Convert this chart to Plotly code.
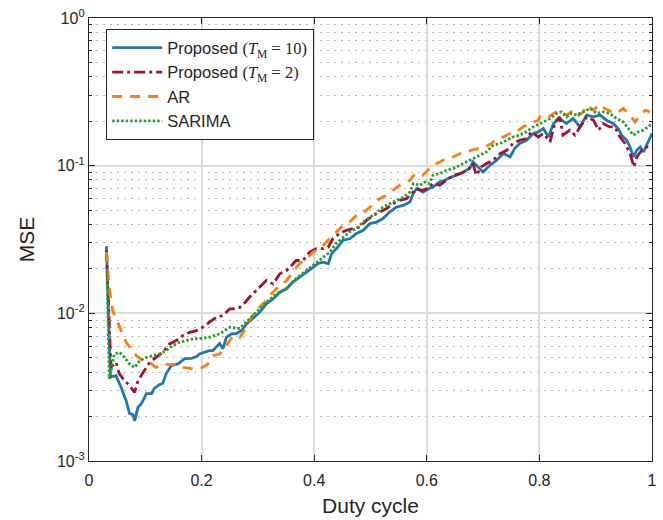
import plotly.graph_objects as go

# ---- data (duty cycle, MSE) ----
prop10_x = [0.031, 0.038, 0.048, 0.057, 0.066, 0.072, 0.078, 0.081, 0.087, 0.093, 0.102, 0.111, 0.116, 0.125,
            0.131, 0.137, 0.146, 0.158, 0.170, 0.182, 0.191, 0.196, 0.205, 0.214, 0.220, 0.232, 0.238, 0.244,
            0.253, 0.262, 0.271, 0.279, 0.291, 0.303, 0.315, 0.327, 0.339, 0.351, 0.362, 0.374, 0.386, 0.398,
            0.407, 0.416, 0.425, 0.431, 0.442, 0.451, 0.463, 0.475, 0.487, 0.499, 0.511, 0.522, 0.534, 0.546,
            0.558, 0.570, 0.576, 0.582, 0.593, 0.604, 0.611, 0.623, 0.632, 0.641, 0.653, 0.665, 0.676, 0.682,
            0.691, 0.700, 0.712, 0.724, 0.736, 0.748, 0.756, 0.765, 0.777, 0.789, 0.798, 0.807, 0.816, 0.825,
            0.836, 0.848, 0.860, 0.872, 0.884, 0.896, 0.908, 0.919, 0.931, 0.940, 0.946, 0.955, 0.961, 0.967,
            0.973, 0.979, 0.985, 0.993, 1.000]
prop10_y = [0.0285, 0.0037, 0.00378, 0.00316, 0.00256, 0.0021, 0.00206, 0.00187, 0.00231, 0.00244, 0.00286,
            0.00286, 0.0031, 0.00329, 0.00336, 0.00389, 0.00442, 0.00454, 0.00493, 0.00495, 0.00509, 0.00531,
            0.00545, 0.00559, 0.00559, 0.00624, 0.00577, 0.00688, 0.00726, 0.0073, 0.00764, 0.0084, 0.00923,
            0.01018, 0.0116, 0.01254, 0.01391, 0.01467, 0.01627, 0.01759, 0.019, 0.02053, 0.02175, 0.0222,
            0.02166, 0.02537, 0.0281, 0.0312, 0.032, 0.0347, 0.0365, 0.0405, 0.0415, 0.0438, 0.0485, 0.0524,
            0.0538, 0.0567, 0.0647, 0.070, 0.0663, 0.070, 0.0717, 0.0775, 0.0796, 0.083, 0.0861, 0.0907,
            0.0956, 0.106, 0.098, 0.0907, 0.1006, 0.1088, 0.1208, 0.1146, 0.1306, 0.1413, 0.1487, 0.1652,
            0.1694, 0.1786, 0.1565, 0.193, 0.2087, 0.193, 0.2087, 0.183, 0.2198, 0.214, 0.22, 0.2032, 0.193,
            0.1786, 0.161, 0.1487, 0.1339, 0.1146, 0.1272, 0.1339, 0.1239, 0.1448, 0.1652]

prop2_x = [0.031, 0.039, 0.048, 0.054, 0.063, 0.072, 0.081, 0.087, 0.096, 0.108, 0.119, 0.131, 0.143, 0.155,
           0.167, 0.179, 0.191, 0.202, 0.214, 0.226, 0.238, 0.250, 0.262, 0.271, 0.285, 0.300, 0.315, 0.327,
           0.339, 0.351, 0.359, 0.368, 0.380, 0.392, 0.404, 0.416, 0.425, 0.433, 0.445, 0.457, 0.469, 0.481,
           0.493, 0.505, 0.516, 0.528, 0.540, 0.552, 0.564, 0.576, 0.582, 0.591, 0.602, 0.611, 0.623, 0.635,
           0.647, 0.659, 0.673, 0.682, 0.688, 0.697, 0.706, 0.718, 0.730, 0.742, 0.753, 0.765, 0.777, 0.786,
           0.798, 0.807, 0.819, 0.828, 0.836, 0.842, 0.854, 0.863, 0.872, 0.884, 0.896, 0.905, 0.913, 0.925,
           0.934, 0.943, 0.952, 0.961, 0.968, 0.973, 0.982, 0.991, 0.996]
prop2_y = [0.0267, 0.00431, 0.00466, 0.00389, 0.0035, 0.00324, 0.00292, 0.0035, 0.00398, 0.00466, 0.00503,
           0.00545, 0.00621, 0.00654, 0.00707, 0.00744, 0.00764, 0.00805, 0.00871, 0.0094, 0.00967, 0.01073,
           0.01073, 0.0111, 0.01285, 0.01467, 0.0167, 0.0158, 0.01853, 0.0195, 0.0211, 0.0228, 0.0228, 0.026,
           0.0274, 0.0274, 0.0281, 0.032, 0.0347, 0.0365, 0.0375, 0.0384, 0.0426, 0.046, 0.0485, 0.0511,
           0.0553, 0.0582, 0.0598, 0.0663, 0.070, 0.0681, 0.070, 0.0756, 0.0736, 0.0796, 0.0861, 0.0884,
           0.0931, 0.1034, 0.0861, 0.098, 0.1034, 0.1088, 0.1208, 0.1272, 0.1413, 0.1487, 0.1527, 0.1694,
           0.1565, 0.1652, 0.1448, 0.198, 0.214, 0.161, 0.1739, 0.161, 0.183, 0.214, 0.2032, 0.1739, 0.193,
           0.183, 0.183, 0.1565, 0.1413, 0.1208, 0.098, 0.1146, 0.1272, 0.1339, 0.1413]

ar_x = [0.031, 0.036, 0.042, 0.054, 0.066, 0.075, 0.084, 0.096, 0.108, 0.119, 0.131, 0.143, 0.155, 0.167,
        0.179, 0.191, 0.202, 0.211, 0.220, 0.232, 0.244, 0.256, 0.268, 0.276, 0.285, 0.297, 0.312, 0.324,
        0.336, 0.351, 0.362, 0.374, 0.386, 0.398, 0.410, 0.428, 0.439, 0.451, 0.463, 0.475, 0.487, 0.502,
        0.516, 0.528, 0.540, 0.552, 0.570, 0.579, 0.593, 0.604, 0.611, 0.623, 0.635, 0.647, 0.659, 0.671,
        0.679, 0.691, 0.703, 0.715, 0.724, 0.736, 0.748, 0.759, 0.771, 0.783, 0.798, 0.801, 0.813, 0.825,
        0.836, 0.848, 0.857, 0.866, 0.878, 0.884, 0.896, 0.908, 0.916, 0.928, 0.937, 0.949, 0.958, 0.970,
        0.979, 0.988, 0.996]
ar_y = [0.026, 0.015, 0.01045, 0.00805, 0.00637, 0.00574, 0.00517, 0.00478, 0.00466, 0.0043, 0.00454, 0.00449,
        0.00454, 0.0043, 0.00426, 0.0042, 0.0043, 0.00454, 0.00517, 0.0053, 0.00605, 0.00707, 0.00688,
        0.00764, 0.00894, 0.01045, 0.0119, 0.0136, 0.01503, 0.0167, 0.019, 0.0217, 0.0234, 0.026, 0.0274,
        0.032, 0.0355, 0.0394, 0.0415, 0.046, 0.0477, 0.0538, 0.0598, 0.063, 0.0681, 0.0736, 0.0796, 0.0884,
        0.0861, 0.0956, 0.1006, 0.106, 0.1117, 0.1146, 0.1208, 0.1239, 0.1272, 0.1306, 0.1339, 0.1413,
        0.1527, 0.1565, 0.1652, 0.1694, 0.183, 0.193, 0.2032, 0.214, 0.2087, 0.2257, 0.2376, 0.22, 0.2314,
        0.214, 0.2314, 0.257, 0.2376, 0.261, 0.244, 0.2314, 0.2257, 0.244, 0.2257, 0.198, 0.22, 0.2376,
        0.2314]

sarima_x = [0.032, 0.036, 0.045, 0.054, 0.063, 0.072, 0.081, 0.090, 0.102, 0.113, 0.125, 0.137, 0.149,
            0.161, 0.173, 0.185, 0.196, 0.214, 0.232, 0.250, 0.268, 0.279, 0.297, 0.315, 0.333, 0.351, 0.368,
            0.386, 0.404, 0.416, 0.428, 0.439, 0.451, 0.463, 0.475, 0.487, 0.499, 0.511, 0.522, 0.534, 0.546,
            0.558, 0.570, 0.576, 0.588, 0.596, 0.604, 0.611, 0.623, 0.635, 0.647, 0.659, 0.671, 0.682, 0.694,
            0.706, 0.718, 0.730, 0.742, 0.753, 0.765, 0.777, 0.789, 0.800, 0.807, 0.819, 0.831, 0.839, 0.848,
            0.857, 0.866, 0.878, 0.890, 0.902, 0.913, 0.925, 0.937, 0.949, 0.958, 0.967, 0.976, 0.985, 0.993,
            1.000]
sarima_y = [0.0195, 0.0036, 0.0053, 0.00545, 0.00503, 0.00454, 0.0043, 0.00478, 0.00503, 0.00517, 0.0053,
            0.00559, 0.00605, 0.00637, 0.00654, 0.00672, 0.00675, 0.00688, 0.00726, 0.00805, 0.0079, 0.00871,
            0.01018, 0.0119, 0.01357, 0.0148, 0.0172, 0.0195, 0.0218, 0.0238, 0.026, 0.0298, 0.0325, 0.0356,
            0.0375, 0.0415, 0.0448, 0.0477, 0.0524, 0.0553, 0.0582, 0.0612, 0.0663, 0.0756, 0.0736, 0.0775,
            0.0756, 0.0861, 0.0884, 0.0931, 0.0956, 0.1006, 0.106, 0.1117, 0.118, 0.1239, 0.1375, 0.1413,
            0.1487, 0.1565, 0.161, 0.1694, 0.183, 0.193, 0.198, 0.2087, 0.2257, 0.2314, 0.214, 0.2257, 0.22,
            0.2314, 0.244, 0.2257, 0.2314, 0.2257, 0.2087, 0.198, 0.1786, 0.161, 0.1694, 0.1739, 0.183, 0.193]

series_names = [
    "Proposed <span style='font-family:Liberation Serif'>(<i>T</i><sub>M</sub> = 10)</span>",
    "Proposed <span style='font-family:Liberation Serif'>(<i>T</i><sub>M</sub> = 2)</span>",
    "AR",
    "SARIMA",
]
x_tick_vals = [0, 0.2, 0.4, 0.6, 0.8, 1]
x_tick_text = ["0", "0.2", "0.4", "0.6", "0.8", "1"]
y_tick_vals = [1e-3, 1e-2, 1e-1, 1]
y_tick_text = ["10<sup>-3</sup>", "10<sup>-2</sup>", "10<sup>-1</sup>", "10<sup>0</sup>"]
y_minor_vals = [m * 10.0 ** e for e in (-3, -2, -1) for m in range(2, 10)]

FONT = "Liberation Sans, Arial, sans-serif"
TXT = "#262626"

fig = go.Figure()
fig.add_trace(go.Scatter(x=prop10_x, y=prop10_y, mode="lines", name=series_names[0],
                         line=dict(color="#1f77b4", width=2.8, dash="solid")))
fig.add_trace(go.Scatter(x=prop2_x, y=prop2_y, mode="lines", name=series_names[1],
                         line=dict(color="#a2142f", width=2.8, dash="11px,4px,3px,4px")))
fig.add_trace(go.Scatter(x=ar_x, y=ar_y, mode="lines", name=series_names[2],
                         line=dict(color="#ff7f0e", width=2.8, dash="10px,8px")))
fig.add_trace(go.Scatter(x=sarima_x, y=sarima_y, mode="lines", name=series_names[3],
                         line=dict(color="#2ca02c", width=2.8, dash="2.5px,2px")))

fig.update_layout(
    width=663, height=520,
    margin=dict(l=89, r=11, t=18, b=59),
    paper_bgcolor="white", plot_bgcolor="white",
    font=dict(family=FONT, color=TXT, size=16),
    showlegend=True,
    legend=dict(x=0.03, y=0.975, xanchor="left", yanchor="top",
                bgcolor="white", bordercolor="#262626", borderwidth=1.3,
                font=dict(family=FONT, size=16.5, color=TXT), itemwidth=50,
                tracegroupgap=0),
)
fig.update_xaxes(
    range=[0, 1], tickmode="array", tickvals=x_tick_vals, ticktext=x_tick_text,
    ticks="inside", ticklen=6, tickcolor=TXT, tickwidth=1,
    showline=True, linecolor=TXT, linewidth=1.3, mirror="ticks",
    showgrid=True, gridcolor="#dcdcdc", gridwidth=1.5, automargin=False,
    zeroline=False, tickfont=dict(size=16, color=TXT), ticklabelstandoff=5,
    title=dict(text="Duty cycle", font=dict(size=21, color=TXT), standoff=9),
)
fig.update_yaxes(
    type="log", range=[-3, 0], tickmode="array", tickvals=y_tick_vals, ticktext=y_tick_text,
    ticks="inside", ticklen=6, tickcolor=TXT, tickwidth=1,
    showline=True, linecolor=TXT, linewidth=1.3, mirror="ticks",
    showgrid=True, gridcolor="#dcdcdc", gridwidth=1.5, automargin=False,
    zeroline=False, tickfont=dict(size=16, color=TXT),
    minor=dict(tickmode="array", tickvals=y_minor_vals, ticks="inside", ticklen=3,
               tickcolor=TXT, showgrid=True, gridcolor="#b4b4b4", griddash="1.5px,5.5px", gridwidth=1.2),
    title=dict(text="MSE", font=dict(size=21, color=TXT), standoff=16),
)

fig.write_html("out.html")
